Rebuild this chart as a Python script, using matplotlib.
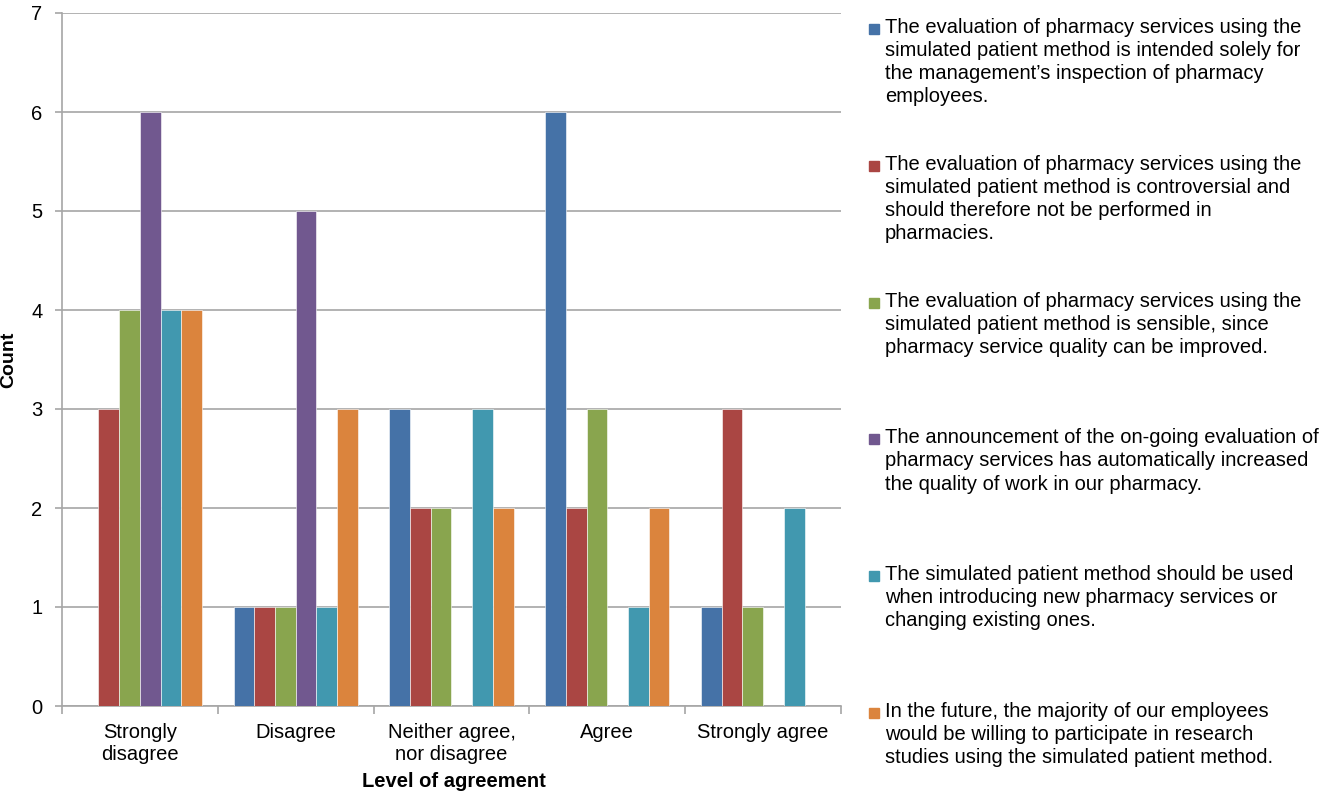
import numpy as np
import matplotlib.pyplot as plt
from matplotlib.patches import Rectangle

plt.rcParams['font.family'] = ['Liberation Sans', 'DejaVu Sans']

# Level of agreement categories
categories = ["Strongly\ndisagree", "Disagree", "Neither agree,\nnor disagree", "Agree", "Strongly agree"]

# Counts per statement (one list per statement)
s1_inspection = [0, 1, 3, 6, 1]
s2_controversial = [3, 1, 2, 2, 3]
s3_sensible = [4, 1, 2, 3, 1]
s4_announcement = [6, 5, 0, 0, 0]
s5_new_services = [4, 1, 3, 1, 2]
s6_future = [4, 3, 2, 2, 0]

labels = [
    "The evaluation of pharmacy services using the\nsimulated patient method is intended solely for\nthe management\u2019s inspection of pharmacy\nemployees.",
    "The evaluation of pharmacy services using the\nsimulated patient method is controversial and\nshould therefore not be performed in\npharmacies.",
    "The evaluation of pharmacy services using the\nsimulated patient method is sensible, since\npharmacy service quality can be improved.",
    "The announcement of the on-going evaluation of\npharmacy services has automatically increased\nthe quality of work in our pharmacy.",
    "The simulated patient method should be used\nwhen introducing new pharmacy services or\nchanging existing ones.",
    "In the future, the majority of our employees\nwould be willing to participate in research\nstudies using the simulated patient method.",
]
colors = ["#4572A7", "#AA4643", "#89A54E", "#71588F", "#4198AF", "#DB843D"]
series = [s1_inspection, s2_controversial, s3_sensible, s4_announcement, s5_new_services, s6_future]

W, H = 1331, 791
fig = plt.figure(figsize=(W / 100, H / 100), dpi=100)
ax = fig.add_axes([62 / W, 1 - 706 / H, (841 - 62) / W, (706 - 13) / H])

x = np.arange(len(categories))
bw = 0.133
for i, (vals, c) in enumerate(zip(series, colors)):
    ax.bar(x + (i - 2.5) * bw, vals, width=bw, color=c, edgecolor="white", linewidth=0.4, zorder=3)

ax.set_xlim(-0.5, 4.5)
ax.set_ylim(0, 7)
ax.set_yticks(range(8))
ax.yaxis.grid(True, color="#a6a6a6", linewidth=1.2, zorder=0)
ax.tick_params(axis="y", length=5, color="#a6a6a6", width=1.2, labelsize=14.5, pad=9)

ax.set_xticks(x)
ax.set_xticklabels(categories, fontsize=14.5, linespacing=1.2)
ax.set_xticks(np.arange(-0.5, 5.0, 1.0), minor=True)
ax.tick_params(axis="x", which="major", length=0, pad=12)
ax.tick_params(axis="x", which="minor", length=6, color="#a6a6a6", width=1.2)

for side in ["top", "right"]:
    ax.spines[side].set_visible(False)
for side in ["left", "bottom"]:
    ax.spines[side].set_color("#a6a6a6")
    ax.spines[side].set_linewidth(1.2)

ax.set_ylabel("Count", fontsize=14, fontweight="bold")
ax.yaxis.set_label_coords(-0.057, 0.5)
ax.set_xlabel("Level of agreement", fontsize=14.5, fontweight="bold")
ax.xaxis.set_label_coords(0.503, -0.095)

# Legend drawn as text entries with square markers
for i, (lab, c) in enumerate(zip(labels, colors)):
    y_px = 29 + i * 136.8
    fig.patches.append(Rectangle((869 / W, 1 - (y_px + 5) / H), 10 / W, 10 / H,
                                 transform=fig.transFigure, color=c))
    fig.text(885 / W, 1 - (y_px - 11) / H, lab, fontsize=14.5, va="top", ha="left",
             linespacing=1.27)

plt.savefig("out.png", dpi=100)
